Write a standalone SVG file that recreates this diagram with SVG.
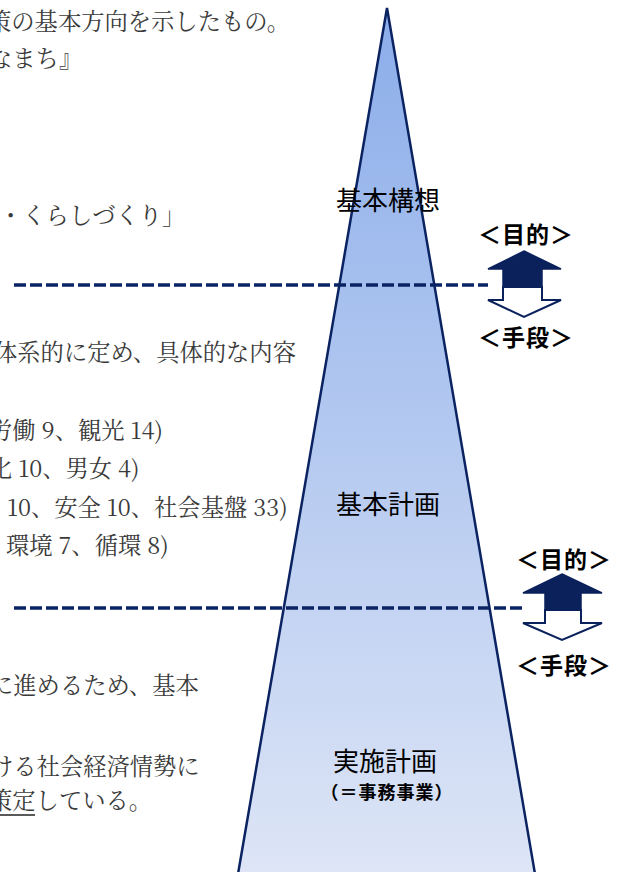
<svg xmlns="http://www.w3.org/2000/svg" width="625" height="872" viewBox="0 0 625 872">
  <defs>
    <linearGradient id="pyrGrad" x1="0" y1="8" x2="0" y2="872" gradientUnits="userSpaceOnUse">
      <stop offset="0" stop-color="#8badea"/>
      <stop offset="1" stop-color="#dde5f6"/>
    </linearGradient>
  </defs>
  <style>
    .body { font-family: "Noto Serif CJK JP", "Liberation Serif", "Noto Sans CJK JP", serif; font-size: 23.3px; fill: #3a3a3a; }
    .lvl { font-family: "Noto Sans CJK JP", sans-serif; font-size: 26px; font-weight: 400; fill: #000; text-anchor: middle; }
    .sub { font-family: "Noto Sans CJK JP", sans-serif; font-size: 18px; font-weight: 700; fill: #000; text-anchor: middle; letter-spacing: 1px; }
    .tag { font-family: "Noto Sans CJK JP", sans-serif; font-size: 23px; font-weight: 700; fill: #000; text-anchor: middle; letter-spacing: 1px; }
    .dash { stroke: #0a2463; stroke-width: 3.5; stroke-dasharray: 12 4; fill: none; }
    .up { fill: #0a215c; stroke: #0a215c; stroke-width: 1.5; stroke-linejoin: miter; }
    .down { fill: #fff; stroke: #0a215c; stroke-width: 2; stroke-linejoin: miter; }
  </style>

  <g id="body-text">
    <text class="body" x="-12" y="30">策の基本方向を示したもの。</text>
    <text class="body" x="-11" y="67">なまち』</text>
    <text class="body" x="-1" y="224">・くらしづくり」</text>
    <text class="body" x="-6" y="361">体系的に定め、具体的な内容</text>
    <text class="body" x="-11" y="439">労働 9、観光 14)</text>
    <text class="body" x="-11" y="477">化 10、男女 4)</text>
    <text class="body" x="7" y="516">10、安全 10、社会基盤 33)</text>
    <text class="body" x="6" y="554">環境 7、循環 8)</text>
    <text class="body" x="-10" y="694">に進めるため、基本</text>
    <text class="body" x="-10" y="775">ける社会経済情勢に</text>
    <text class="body" x="-11" y="809">策定している。</text>
    <line x1="0" y1="815" x2="35" y2="815" stroke="#222" stroke-width="1.5"/>
  </g>

  <g id="pyramid">
    <polygon points="387,8 535,874 238,874" fill="url(#pyrGrad)" stroke="#0b2361" stroke-width="2.5" stroke-linejoin="miter"/>
  </g>

  <g id="connectors">
    <line class="dash" x1="14" y1="285" x2="488" y2="285"/>
    <line class="dash" x1="14" y1="608" x2="523" y2="608"/>
  </g>

  <g id="node-kihon-koso">
    <text class="lvl" x="388" y="210">基本構想</text>
  </g>
  <g id="node-kihon-keikaku">
    <text class="lvl" x="388" y="514">基本計画</text>
  </g>
  <g id="node-jisshi-keikaku">
    <text class="lvl" x="385" y="771">実施計画</text>
    <text class="sub" x="387" y="799">（＝事務事業）</text>
  </g>

  <g id="arrow-1">
    <text class="tag" x="526" y="243">＜目的＞</text>
    <polygon class="up" points="524,251 561,269 542,269 542,287 503,287 503,269 488,269"/>
    <polygon class="down" points="503,287 542,287 542,300 561,300 524,317 488,300 503,300"/>
    <text class="tag" x="526" y="346">＜手段＞</text>
  </g>

  <g id="arrow-2">
    <text class="tag" x="564" y="568">＜目的＞</text>
    <polygon class="up" points="562,574 602,593 581,593 581,610 545,610 545,593 523,593"/>
    <polygon class="down" points="545,610 581,610 581,623 602,623 562,640 523,623 545,623"/>
    <text class="tag" x="564" y="674">＜手段＞</text>
  </g>
</svg>
